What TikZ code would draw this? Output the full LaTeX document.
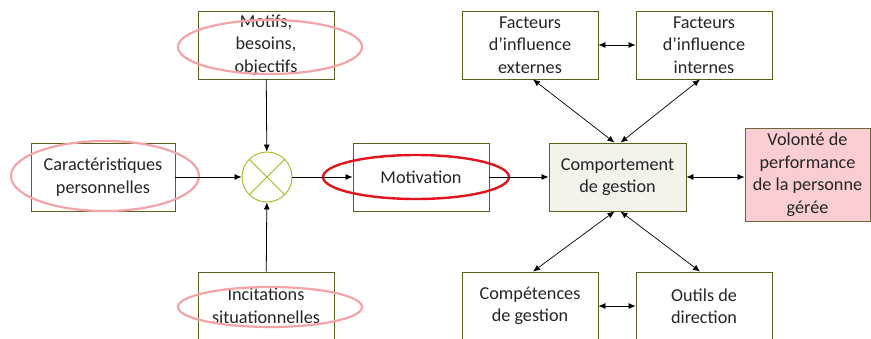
\documentclass[tikz,border=0pt]{standalone}
\usepackage{fontspec}
\setmainfont{Carlito}
\usetikzlibrary{arrows.meta}
\definecolor{boxline}{HTML}{5E5E1E}
\definecolor{circline}{HTML}{AAB31A}
\definecolor{compfill}{HTML}{F3F3EB}
\definecolor{volfill}{HTML}{F9CDD1}
\definecolor{pinkring}{HTML}{F4A3A8}
\definecolor{redring}{HTML}{E3141F}
\tikzset{
  box/.style={draw=boxline, line width=0.9pt, inner sep=0pt, align=center,
    font=\fontsize{18.2}{22.5}\selectfont, text=black!85},
  ar/.style={-{Latex[length=7pt,width=6pt]}, line width=0.8pt},
  dar/.style={{Latex[length=7pt,width=6pt]}-{Latex[length=7pt,width=6pt]}, line width=0.7pt},
  ring/.style={draw=pinkring, line width=2.2pt},
  redr/.style={draw=redring, line width=2.4pt}
}
\begin{document}
\begin{tikzpicture}[x=1pt,y=-1pt]
\useasboundingbox (0,0) rectangle (871,338);
\clip (0,0) rectangle (871,338);
% boxes
\node[box, minimum width=136pt, minimum height=68pt] (mot) at (266,45) {Motifs,\\besoins,\\objectifs};
\node[box, minimum width=144pt, minimum height=68pt] (car) at (103,177) {Caractéristiques\\personnelles};
\node[box, minimum width=136pt, minimum height=68pt] (inc) at (266,306) {Incitations\\situationnelles};
\node[draw=circline, line width=0.9pt, circle, minimum size=50pt, inner sep=0pt] (x) at (267,177) {};
\draw[draw=circline, line width=0.9pt] (x.north west) -- (x.south east) (x.north east) -- (x.south west);
\node[box, minimum width=136pt, minimum height=68pt] (motv) at (421,177) {Motivation};
\node[box, fill=compfill, minimum width=137pt, minimum height=68pt] (comp) at (617.5,177) {Comportement\\de gestion};
\node[box, fill=volfill, draw=boxline!70!gray, minimum width=125pt, minimum height=93pt] (vol) at (807.5,174.5) {Volonté de\\performance\\de la personne\\gérée};
\node[box, minimum width=136pt, minimum height=68pt] (ext) at (530,45) {Facteurs\\d’influence\\externes};
\node[box, minimum width=136pt, minimum height=68pt] (int) at (704,45) {Facteurs\\d’influence\\internes};
\node[box, minimum width=136pt, minimum height=68pt] (cg) at (530,306) {Compétences\\de gestion};
\node[box, minimum width=136pt, minimum height=68pt] (out) at (704,306) {Outils de\\direction};
% ellipses
\draw[ring] (270,47) ellipse [x radius=92pt, y radius=27pt];
\draw[ring] (105,176) ellipse [x radius=94pt, y radius=35pt];
\draw[ring] (270,307) ellipse [x radius=92pt, y radius=20pt];
\draw[redr] (416,177) ellipse [x radius=93pt, y radius=22pt];
% connectors
\draw[ar] (mot) -- (x);
\draw[ar] (car) -- (x);
\draw[ar] (inc) -- (x);
\draw[ar] (x) -- (motv);
\draw[ar] (motv) -- (comp);
\draw[dar] (comp.east) -- (vol.west |- comp.east);
\draw[dar] (ext) -- (int);
\draw[dar] (cg) -- (out);
\draw[dar] ([xshift=3pt]ext.south) -- ([xshift=-3pt]comp.north);
\draw[dar] ([xshift=-4pt]int.south) -- ([xshift=3pt]comp.north);
\draw[dar] ([xshift=3pt]cg.north) -- ([xshift=-3pt]comp.south);
\draw[dar] ([xshift=-4pt]out.north) -- ([xshift=3pt]comp.south);
\end{tikzpicture}
\end{document}
